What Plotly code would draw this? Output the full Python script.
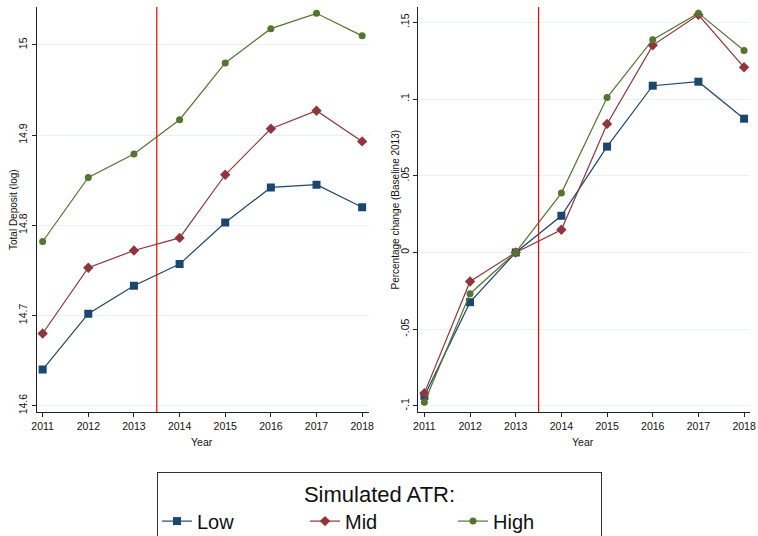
import plotly.graph_objects as go

years = [2011, 2012, 2013, 2014, 2015, 2016, 2017, 2018]

# Left panel: Total Deposit (log)
dep_low = [14.640, 14.702, 14.733, 14.757, 14.803, 14.842, 14.845, 14.820]
dep_mid = [14.680, 14.753, 14.772, 14.786, 14.856, 14.907, 14.927, 14.893]
dep_high = [14.782, 14.853, 14.879, 14.917, 14.980, 15.018, 15.035, 15.010]

# Right panel: Percentage change (Baseline 2013)
pct_low = [-0.0935, -0.0324, 0.0, 0.0239, 0.069, 0.1087, 0.1113, 0.0872]
pct_mid = [-0.0917, -0.0189, 0.0, 0.0148, 0.0838, 0.135, 0.1549, 0.1207]
pct_high = [-0.0976, -0.0269, 0.0, 0.0387, 0.101, 0.1387, 0.156, 0.1316]

left_ticks = [14.6, 14.7, 14.8, 14.9, 15.0]
left_ticktext = ["14.6", "14.7", "14.8", "14.9", "15"]
right_ticks = [-0.1, -0.05, 0.0, 0.05, 0.1, 0.15]
right_ticktext = ["-.1", "-.05", "0", ".05", ".1", ".15"]

series_names = ["Low", "Mid", "High"]
colors = ["#1a476f", "#90353b", "#55752f"]
symbols = ["square", "diamond", "circle"]
msizes = [8, 8, 7]

FONT = "Liberation Sans, Arial, sans-serif"

fig = go.Figure()
left_data = [dep_low, dep_mid, dep_high]
right_data = [pct_low, pct_mid, pct_high]
for i, name in enumerate(series_names):
    fig.add_trace(go.Scatter(
        x=years, y=left_data[i], mode="lines+markers", name=name,
        line=dict(color=colors[i], width=1.2),
        marker=dict(color=colors[i], symbol=symbols[i], size=msizes[i]),
        xaxis="x", yaxis="y", legendgroup=name, showlegend=True))
for i, name in enumerate(series_names):
    fig.add_trace(go.Scatter(
        x=years, y=right_data[i], mode="lines+markers", name=name,
        line=dict(color=colors[i], width=1.2),
        marker=dict(color=colors[i], symbol=symbols[i], size=msizes[i]),
        xaxis="x2", yaxis="y2", legendgroup=name, showlegend=False))

W, H = 758, 536
ydom = [1 - 412 / H, 1 - 7 / H]

axis_common = dict(
    showline=True, linecolor="#222", linewidth=1,
    ticks="outside", ticklen=4, tickcolor="#222", tickwidth=1,
    tickfont=dict(family=FONT, size=10.5, color="#111"),
    zeroline=False, mirror=False,
)

fig.update_layout(
    width=W, height=H,
    margin=dict(l=0, r=0, t=0, b=0, autoexpand=False),
    paper_bgcolor="white", plot_bgcolor="white",
    font=dict(family=FONT, color="#111"),
    xaxis=dict(domain=[36.5 / W, 369 / W], range=[2010.865, 2018.15],
               tickvals=years, showgrid=False, anchor="y", **axis_common),
    yaxis=dict(domain=ydom, range=[14.593, 15.042], tickvals=left_ticks,
               ticktext=left_ticktext, tickangle=-90, showgrid=True,
               gridcolor="#eaf2f3", gridwidth=1, anchor="x", **axis_common),
    xaxis2=dict(domain=[418 / W, 750 / W], range=[2010.86, 2018.13],
                tickvals=years, showgrid=False, anchor="y2", **axis_common),
    yaxis2=dict(domain=ydom, range=[-0.104, 0.160], tickvals=right_ticks,
                ticktext=right_ticktext, tickangle=-90, showgrid=True,
                gridcolor="#eaf2f3", gridwidth=1, anchor="x2", **axis_common),
    legend=dict(
        orientation="h", x=157 / W, xanchor="left", y=1 - 472 / H, yanchor="top",
        bordercolor="#333", borderwidth=1, bgcolor="white",
        font=dict(family=FONT, size=20, color="#111"),
        title=dict(text="Simulated ATR:", side="top center",
                   font=dict(family=FONT, size=22, color="#111")),
        entrywidth=103,
    ),
    shapes=[
        dict(type="line", xref="x", yref="y domain", x0=2013.5, x1=2013.5, y0=0, y1=1,
             line=dict(color="#ff0000", width=1.2)),
        dict(type="line", xref="x2", yref="y2 domain", x0=2013.5, x1=2013.5, y0=0, y1=1,
             line=dict(color="#ff0000", width=1.2)),
    ],
    annotations=[
        dict(text="Total Deposit (log)", xref="paper", yref="paper", x=13.5 / W,
             y=1 - 209.5 / H, xanchor="center", yanchor="middle", textangle=-90,
             showarrow=False, font=dict(family=FONT, size=10, color="#111")),
        dict(text="Percentage change (Baseline 2013)", xref="paper", yref="paper",
             x=395 / W, y=1 - 209.5 / H, xanchor="center", yanchor="middle",
             textangle=-90, showarrow=False,
             font=dict(family=FONT, size=10, color="#111")),
        dict(text="Year", xref="paper", yref="paper", x=202 / W, y=1 - 441.5 / H,
             xanchor="center", yanchor="middle", showarrow=False,
             font=dict(family=FONT, size=10.5, color="#111")),
        dict(text="Year", xref="paper", yref="paper", x=583 / W, y=1 - 441.5 / H,
             xanchor="center", yanchor="middle", showarrow=False,
             font=dict(family=FONT, size=10.5, color="#111")),
    ],
)

fig.write_html("out.html")
